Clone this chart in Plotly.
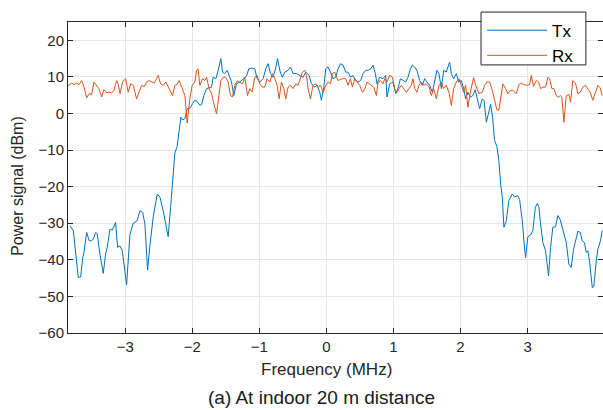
import plotly.graph_objects as go

# Spectrum traces: frequency offset (MHz) and received power (dBm)
tx_freq = [
    -3.824, -3.776, -3.702, -3.666, -3.636, -3.617, -3.577, -3.538, -3.502, -3.478,
    -3.443, -3.419, -3.379, -3.329, -3.294, -3.270, -3.229, -3.195, -3.145, -3.115,
    -3.080, -3.046, -2.981, -2.931, -2.882, -2.823, -2.782, -2.742, -2.708, -2.668,
    -2.633, -2.582, -2.523, -2.483, -2.435, -2.395, -2.361, -2.325, -2.286, -2.261,
    -2.227, -2.197, -2.171, -2.146, -2.112, -2.077, -2.037, -1.997, -1.963, -1.928,
    -1.888, -1.863, -1.829, -1.788, -1.750, -1.714, -1.690, -1.650, -1.615, -1.575,
    -1.550, -1.516, -1.481, -1.441, -1.416, -1.382, -1.341, -1.292, -1.243, -1.192,
    -1.158, -1.118, -1.069, -1.034, -0.994, -0.945, -0.905, -0.870, -0.835, -0.796,
    -0.760, -0.730, -0.696, -0.659, -0.621, -0.572, -0.537, -0.498, -0.447, -0.398,
    -0.349, -0.308, -0.259, -0.224, -0.174, -0.140, -0.100, -0.075, -0.040, -0.010,
    0.024, 0.060, 0.098, 0.139, 0.173, 0.209, 0.247, 0.288, 0.322, 0.358,
    0.396, 0.437, 0.471, 0.511, 0.545, 0.586, 0.620, 0.660, 0.694, 0.730,
    0.754, 0.794, 0.844, 0.884, 0.903, 0.943, 0.993, 1.033, 1.067, 1.103,
    1.142, 1.182, 1.216, 1.252, 1.282, 1.316, 1.350, 1.390, 1.431, 1.465,
    1.499, 1.539, 1.580, 1.614, 1.648, 1.678, 1.714, 1.748, 1.788, 1.812,
    1.838, 1.863, 1.897, 1.937, 1.972, 2.012, 2.046, 2.076, 2.110, 2.146,
    2.185, 2.218, 2.255, 2.285, 2.325, 2.352, 2.385, 2.419, 2.449, 2.478,
    2.508, 2.542, 2.572, 2.598, 2.623, 2.647, 2.683, 2.721, 2.772, 2.806,
    2.855, 2.881, 2.921, 2.945, 2.970, 3.004, 3.045, 3.079, 3.115, 3.145,
    3.168, 3.194, 3.228, 3.268, 3.313, 3.343, 3.377, 3.417, 3.452, 3.487,
    3.526, 3.577, 3.616, 3.651, 3.686, 3.715, 3.750, 3.785, 3.815, 3.849,
    3.875, 3.899, 3.924, 3.965, 3.988, 4.024, 4.048, 4.088, 4.113,
]
tx_power = [
    -30.7, -32.0, -44.8, -44.7, -39.5, -38.0, -32.5, -34.8, -34.8, -34.3,
    -32.5, -32.9, -38.4, -43.7, -38.4, -36.6, -31.6, -31.9, -29.8, -36.6,
    -36.2, -37.5, -46.8, -33.0, -30.0, -29.3, -26.6, -27.0, -30.2, -42.8,
    -36.0, -28.0, -22.0, -22.9, -26.6, -30.0, -33.7, -25.7, -16.5, -10.8,
    -9.0, -4.7, -1.0, -1.8, -1.4, 1.3, 1.4, 2.7, 3.6, 3.3,
    2.2, 2.4, 4.9, 6.8, 6.9, 7.2, 9.9, 9.5, 11.8, 15.0,
    11.3, 10.9, 11.8, 9.5, 8.6, 4.9, 8.1, 8.6, 9.5, 10.2,
    12.2, 12.4, 12.2, 9.5, 8.6, 9.5, 12.2, 13.6, 10.9, 9.9,
    12.2, 15.0, 11.8, 9.9, 11.3, 11.8, 12.7, 10.9, 10.9, 10.4,
    9.9, 11.3, 10.4, 8.1, 7.2, 7.7, 5.8, 3.6, 7.2, 12.2,
    12.7, 11.3, 9.5, 9.9, 12.2, 13.6, 13.2, 11.3, 11.3, 9.9,
    10.4, 9.0, 8.6, 9.0, 10.9, 11.8, 11.8, 12.2, 13.2, 10.9,
    8.1, 9.9, 9.5, 10.4, 4.5, 8.1, 8.6, 5.4, 6.8, 9.5,
    9.0, 8.6, 9.9, 12.2, 13.2, 12.7, 11.8, 9.0, 7.7, 9.5,
    8.6, 7.7, 5.8, 8.6, 11.8, 10.9, 6.8, 11.8, 11.3, 12.7,
    14.0, 10.9, 9.5, 10.9, 8.6, 9.0, 6.8, 4.0, 5.8, 4.5,
    4.9, 6.5, 4.0, 1.3, 4.0, 3.5, -2.4, 0.0, 2.5, -1.0,
    -7.4, -9.0, -12.9, -19.3, -22.9, -31.1, -29.3, -23.8, -22.0, -22.8,
    -22.5, -23.5, -29.3, -34.8, -39.4, -33.7, -33.2, -32.0, -25.7, -24.6,
    -25.5, -30.2, -35.3, -37.5, -44.4, -36.6, -31.1, -31.0, -27.9, -29.0,
    -32.0, -35.3, -41.2, -42.1, -37.1, -35.0, -32.2, -32.5, -34.8, -35.3,
    -38.0, -37.5, -40.3, -47.6, -47.3, -40.3, -37.1, -34.8, -32.0,
]

rx_freq = [
    -3.855, -3.836, -3.800, -3.766, -3.726, -3.691, -3.651, -3.617, -3.577, -3.538,
    -3.502, -3.468, -3.428, -3.394, -3.353, -3.319, -3.279, -3.244, -3.204, -3.170,
    -3.130, -3.106, -3.080, -3.040, -2.996, -2.957, -2.921, -2.882, -2.832, -2.793,
    -2.757, -2.718, -2.683, -2.644, -2.608, -2.569, -2.534, -2.510, -2.474, -2.435,
    -2.395, -2.361, -2.325, -2.295, -2.261, -2.227, -2.197, -2.161, -2.127, -2.112,
    -2.077, -2.037, -2.003, -1.963, -1.937, -1.914, -1.888, -1.848, -1.814, -1.788,
    -1.750, -1.714, -1.680, -1.639, -1.605, -1.575, -1.541, -1.505, -1.466, -1.431,
    -1.401, -1.367, -1.332, -1.292, -1.252, -1.218, -1.177, -1.143, -1.109, -1.069,
    -1.034, -0.994, -0.954, -0.920, -0.885, -0.845, -0.805, -0.770, -0.736, -0.706,
    -0.671, -0.636, -0.607, -0.572, -0.537, -0.498, -0.458, -0.423, -0.387, -0.358,
    -0.323, -0.298, -0.274, -0.238, -0.200, -0.159, -0.125, -0.089, -0.051, -0.010,
    0.024, 0.060, 0.089, 0.124, 0.149, 0.173, 0.209, 0.247, 0.288, 0.322,
    0.358, 0.387, 0.422, 0.456, 0.496, 0.537, 0.571, 0.605, 0.635, 0.671,
    0.705, 0.745, 0.769, 0.805, 0.844, 0.869, 0.903, 0.943, 0.984, 1.018,
    1.052, 1.082, 1.118, 1.152, 1.192, 1.231, 1.267, 1.291, 1.316, 1.350,
    1.380, 1.416, 1.450, 1.490, 1.529, 1.565, 1.599, 1.639, 1.678, 1.714,
    1.748, 1.788, 1.827, 1.863, 1.897, 1.937, 1.976, 2.012, 2.046, 2.076,
    2.110, 2.146, 2.195, 2.225, 2.274, 2.325, 2.359, 2.393, 2.434, 2.474,
    2.508, 2.542, 2.572, 2.608, 2.632, 2.672, 2.706, 2.742, 2.781, 2.832,
    2.870, 2.906, 2.945, 2.990, 3.030, 3.055, 3.089, 3.130, 3.164, 3.194,
    3.228, 3.268, 3.303, 3.328, 3.362, 3.392, 3.428, 3.462, 3.487, 3.511,
    3.541, 3.577, 3.616, 3.641, 3.675, 3.715, 3.750, 3.785, 3.824, 3.864,
    3.899, 3.934, 3.973, 4.013, 4.048, 4.083, 4.113,
]
rx_power = [
    7.5, 7.7, 8.3, 7.9, 8.3, 7.9, 9.0, 7.2, 4.3, 5.4,
    5.2, 8.6, 7.7, 6.8, 4.5, 6.5, 5.7, 5.8, 5.6, 6.3,
    9.0, 8.0, 5.4, 8.6, 9.5, 5.8, 8.1, 7.7, 4.0, 5.8,
    7.7, 7.3, 8.6, 9.0, 8.6, 8.3, 9.5, 10.4, 8.1, 7.7,
    8.6, 7.3, 6.3, 4.9, 7.7, 8.0, 9.0, 7.2, 5.4, 4.9,
    -2.6, 4.0, 7.7, 8.6, 11.8, 12.2, 7.7, 9.5, 9.0, 9.9,
    6.8, 5.5, 2.7, -0.1, 4.9, 9.0, 9.9, 9.9, 8.6, 4.9,
    4.5, 7.7, 8.9, 8.6, 8.1, 9.9, 4.9, 6.8, 5.9, 9.9,
    10.4, 8.1, 7.2, 7.2, 9.5, 8.6, 10.9, 9.5, 7.7, 4.0,
    8.6, 6.8, 4.0, 7.2, 7.7, 6.8, 8.1, 7.7, 9.9, 11.3,
    11.8, 10.4, 6.8, 4.0, 7.7, 8.1, 7.2, 7.7, 5.8, 7.7,
    8.6, 8.1, 10.9, 11.3, 9.9, 9.0, 9.3, 9.5, 9.5, 7.7,
    9.5, 7.2, 9.5, 8.6, 7.7, 5.8, 6.7, 8.6, 8.1, 7.7,
    7.2, 4.9, 8.6, 9.0, 8.1, 9.5, 8.6, 10.4, 9.9, 6.8,
    5.8, 6.8, 7.7, 6.8, 5.8, 6.8, 7.7, 9.5, 6.8, 5.8,
    7.7, 8.6, 7.7, 8.1, 7.3, 4.9, 6.8, 4.0, 7.7, 8.6,
    6.8, 7.7, 5.8, 2.2, 6.8, 8.6, 9.5, 7.7, 5.8, 7.7,
    1.7, 5.8, 9.8, 7.7, 5.4, 5.8, 7.7, 8.6, 8.6, 6.3,
    3.6, 1.0, 0.9, 5.8, 8.1, 6.8, 5.4, 6.3, 6.3, 5.4,
    7.9, 8.3, 7.9, 7.7, 7.9, 10.4, 7.4, 9.0, 8.6, 6.8,
    7.2, 7.2, 9.9, 9.5, 6.8, 6.8, 4.9, 4.4, 4.9, 4.5,
    -2.4, 4.9, 5.2, 3.1, 9.0, 8.3, 5.4, 5.8, 7.2, 7.7,
    6.8, 5.8, 3.6, 5.8, 7.7, 7.0, 4.9,
]

x_ticks = [-3, -2, -1, 0, 1, 2, 3]
y_ticks = [-60, -50, -40, -30, -20, -10, 0, 10, 20]

BLUE = "#0072BD"
ORANGE = "#D95319"
AXIS = "#262626"
GRID = "#e6e6e6"
FONT = "Liberation Sans, Arial, sans-serif"

fig = go.Figure()
fig.add_trace(go.Scatter(x=tx_freq, y=tx_power, mode="lines", name="Tx",
                         line=dict(color=BLUE, width=1)))
fig.add_trace(go.Scatter(x=rx_freq, y=rx_power, mode="lines", name="Rx",
                         line=dict(color=ORANGE, width=1)))

axis_common = dict(
    showline=True, linecolor=AXIS, linewidth=1, mirror="ticks",
    ticks="inside", ticklen=5, tickcolor=AXIS, tickwidth=1,
    showgrid=True, gridcolor=GRID, gridwidth=1, zeroline=False,
    tickfont=dict(family=FONT, size=15, color=AXIS),
)

fig.update_xaxes(range=[-3.855, 4.125], tickvals=x_ticks, **axis_common)
fig.update_yaxes(range=[-60, 25], tickvals=y_ticks, **axis_common)

fig.add_annotation(text="Frequency (MHz)", xref="paper", yref="paper",
                   x=0.484, y=-0.118, xanchor="center", yanchor="middle",
                   showarrow=False, font=dict(family=FONT, size=17, color=AXIS))
fig.add_annotation(text="Power signal (dBm)", xref="paper", yref="paper",
                   x=-0.0935, y=0.473, xanchor="center", yanchor="middle",
                   textangle=-90, showarrow=False,
                   font=dict(family=FONT, size=16, color=AXIS))
fig.add_annotation(text="(a) At indoor 20 m distance", xref="paper", yref="paper",
                   x=0.474, y=-0.206, xanchor="center", yanchor="middle",
                   showarrow=False, font=dict(family=FONT, size=19, color="#1a1a1a"))

# Legend frame (white box with dark outline) behind the legend entries
fig.add_shape(type="rect", xref="paper", yref="paper",
              x0=0.772, x1=0.968, y0=0.862, y1=1.032, layer="above",
              line=dict(color=AXIS, width=1), fillcolor="white")

fig.update_layout(
    width=603, height=410,
    margin=dict(l=68, r=0, t=22, b=77),
    plot_bgcolor="white", paper_bgcolor="white",
    showlegend=True,
    legend=dict(x=0.774, y=1.030, xanchor="left", yanchor="top",
                bgcolor="rgba(0,0,0,0)", borderwidth=0,
                font=dict(family=FONT, size=17, color="#000000"),
                itemwidth=60, tracegroupgap=0),
)

fig.write_html("out.html")
